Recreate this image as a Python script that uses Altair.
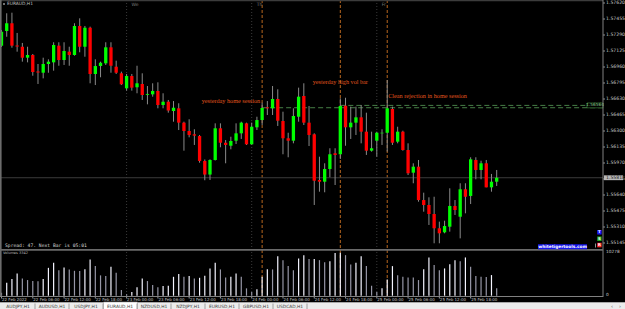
import altair as alt
import pandas as pd

# ---------------- data (EURAUD H1, 22-25 Feb 2022) ----------------
opens = [
    1.57180, 1.57331, 1.57411, 1.57182, 1.57169, 1.57056, 1.57084, 1.56914, 1.56901, 1.56991,
    1.57008, 1.57180, 1.57032, 1.57118, 1.57084, 1.57383, 1.57169, 1.57365, 1.56888, 1.56970,
    1.56998, 1.57163, 1.56963, 1.56895, 1.56740, 1.56867, 1.56751, 1.56785, 1.56673, 1.56678,
    1.56713, 1.56568, 1.56602, 1.56506, 1.56534, 1.56386, 1.56300, 1.56266, 1.56248, 1.55991,
    1.55851, 1.56001, 1.56328, 1.56179, 1.56148, 1.56200, 1.56276, 1.56379, 1.56163, 1.56338,
    1.56413, 1.56544, 1.56534, 1.56630, 1.56403, 1.56225, 1.56200, 1.56447, 1.56661, 1.56386,
    1.56266, 1.55795, 1.55777, 1.55908, 1.56070, 1.56060, 1.56561, 1.56338, 1.56386, 1.56441,
    1.56293, 1.56097, 1.56200, 1.56276, 1.56282, 1.56527, 1.56190, 1.56293, 1.56104, 1.55870,
    1.55932, 1.55588, 1.55537, 1.55444, 1.55297, 1.55255, 1.55313, 1.55527, 1.55416, 1.55699,
    1.55630, 1.56001, 1.55898, 1.55967, 1.55719, 1.55777]
highs = [
    1.57342, 1.57514, 1.57520, 1.57311, 1.57208, 1.57169, 1.57094, 1.56991, 1.57056, 1.57039,
    1.57215, 1.57215, 1.57215, 1.57169, 1.57411, 1.57462, 1.57383, 1.57376, 1.57039, 1.57015,
    1.57215, 1.57215, 1.57025, 1.56912, 1.56888, 1.56888, 1.56973, 1.56895, 1.56764, 1.56792,
    1.56802, 1.56689, 1.56620, 1.56609, 1.56586, 1.56396, 1.56421, 1.56318, 1.56259, 1.56006,
    1.56008, 1.56379, 1.56379, 1.56207, 1.56241, 1.56379, 1.56396, 1.56386, 1.56386, 1.56447,
    1.56592, 1.56609, 1.56764, 1.56730, 1.56499, 1.56282, 1.56534, 1.56747, 1.56792, 1.56558,
    1.56276, 1.56035, 1.55967, 1.56122, 1.56122, 1.56637, 1.56643, 1.56551, 1.56551, 1.56568,
    1.56489, 1.56293, 1.56293, 1.56318, 1.56826, 1.56551, 1.56344, 1.56303, 1.56173, 1.55967,
    1.56001, 1.55664, 1.55616, 1.55622, 1.55365, 1.55375, 1.55709, 1.55588, 1.55761, 1.55761,
    1.56029, 1.56029, 1.55994, 1.56001, 1.55857, 1.55898]
lows = [
    1.57166, 1.57272, 1.57159, 1.57118, 1.57015, 1.57008, 1.56870, 1.56785, 1.56843, 1.56901,
    1.56922, 1.56973, 1.56981, 1.56973, 1.57077, 1.57112, 1.57066, 1.56792, 1.56774, 1.56854,
    1.56981, 1.56901, 1.56888, 1.56774, 1.56716, 1.56716, 1.56689, 1.56620, 1.56575, 1.56654,
    1.56534, 1.56534, 1.56489, 1.56396, 1.56310, 1.56097, 1.56235, 1.56156, 1.55973, 1.55792,
    1.55795, 1.55996, 1.56132, 1.55967, 1.56111, 1.56166, 1.56218, 1.56156, 1.56158, 1.56310,
    1.56362, 1.56465, 1.56465, 1.56352, 1.56060, 1.56029, 1.56173, 1.56396, 1.56362, 1.56145,
    1.55537, 1.55674, 1.55668, 1.55823, 1.55743, 1.56011, 1.56148, 1.56218, 1.56259, 1.56173,
    1.56053, 1.56087, 1.56035, 1.56156, 1.56087, 1.56156, 1.56173, 1.56097, 1.55846, 1.55761,
    1.55571, 1.55468, 1.55331, 1.55142, 1.55142, 1.55245, 1.55262, 1.55434, 1.55193, 1.55451,
    1.55547, 1.55802, 1.55802, 1.55719, 1.55674, 1.55733]
closes = [
    1.57324, 1.57411, 1.57180, 1.57171, 1.57056, 1.57084, 1.56908, 1.56903, 1.56991, 1.57015,
    1.57187, 1.57032, 1.57125, 1.57084, 1.57383, 1.57169, 1.57365, 1.56888, 1.56970, 1.57004,
    1.57163, 1.56973, 1.56901, 1.56782, 1.56867, 1.56747, 1.56792, 1.56671, 1.56682, 1.56713,
    1.56568, 1.56602, 1.56511, 1.56540, 1.56386, 1.56300, 1.56259, 1.56252, 1.55991, 1.55851,
    1.56001, 1.56328, 1.56179, 1.56156, 1.56197, 1.56276, 1.56386, 1.56163, 1.56344, 1.56413,
    1.56537, 1.56534, 1.56630, 1.56406, 1.56225, 1.56200, 1.56455, 1.56654, 1.56386, 1.56259,
    1.55787, 1.55777, 1.55908, 1.56060, 1.56053, 1.56558, 1.56338, 1.56386, 1.56441, 1.56293,
    1.56097, 1.56122, 1.56282, 1.56282, 1.56534, 1.56179, 1.56293, 1.56104, 1.55864, 1.55932,
    1.55588, 1.55537, 1.55444, 1.55297, 1.55245, 1.55320, 1.55527, 1.55485, 1.55699, 1.55622,
    1.56008, 1.55898, 1.55967, 1.55719, 1.55777, 1.55818]
volumes = [
    720, 3100, 3970, 5330, 4140, 3740, 3500, 3450, 3970, 6660,
    7850, 6110, 6750, 6280, 5950, 5900, 6350, 8660, 7070, 4860,
    4690, 6900, 5470, 1360, 330, 880, 2000, 4140, 3500, 2550,
    2000, 2310, 2350, 4520, 5160, 4520, 4690, 4140, 4280, 4760,
    6520, 7850, 6280, 4380, 4520, 5330, 4520, 1760, 880, 1520,
    4520, 6350, 6280, 9450, 8500, 7070, 6110, 8900, 9690, 8750,
    8800, 8500, 8020, 8260, 10230, 10278, 9690, 7470, 7850, 9450,
    7070, 2380, 880, 1760, 3900, 7070, 4860, 4520, 4380, 4380,
    3740, 6350, 9140, 7310, 6110, 6520, 7540, 8500, 8260, 9140,
    6900, 4690, 4520, 4450, 4930, 1760]

price_ticks = [1.57620, 1.57455, 1.57290, 1.57125, 1.56960, 1.56795, 1.56630, 1.56465,
               1.56300, 1.56135, 1.55970, 1.55805, 1.55640, 1.55475, 1.55310, 1.55145]
time_bars = [0, 6, 12, 18, 24, 30, 36, 42, 48, 54, 60, 66, 72, 78, 84, 90]
time_labels = ["22 Feb 2022", "22 Feb 06:00", "22 Feb 12:00", "22 Feb 18:00",
               "23 Feb 00:00", "23 Feb 06:00", "23 Feb 12:00", "23 Feb 18:00",
               "24 Feb 00:00", "24 Feb 06:00", "24 Feb 12:00", "24 Feb 18:00",
               "25 Feb 00:00", "25 Feb 06:00", "25 Feb 12:00", "25 Feb 18:00"]
day_bars = [24, 48, 72]
day_names = ["We", "Th", "Fr"]
mark_bars = [50, 65, 74]
note_texts = ["yesterday home session", "yesterday high vol bar", "Clean rejection in home session"]
note_prices = [1.56609, 1.56810, 1.56661]
note_align = ["right", "center", "left"]
level_prices = [1.56564, 1.56540]
level_from = [65, 50]
tabs = ["AUDJPY,H1", "AUDUSD,H1", "USDJPY,H1", "EURAUD,H1", "NZDUSD,H1",
        "NZDJPY,H1", "EURUSD,H1", "GBPUSD,H1", "USDCAD,H1"]
vol_max = 10278

# ---------------- tables ----------------
N = len(opens)
df = pd.DataFrame({"bar": list(range(N)), "open": opens, "high": highs,
                   "low": lows, "close": closes, "volume": volumes})
df["col"] = ["#00ff00" if c >= o else "#ff0000" for o, c in zip(opens, closes)]
df["vcol"] = ["#f4f4ff" if (i > 0 and volumes[i] > volumes[i - 1]) else "#9696a6"
              for i in range(N)]

xs = alt.Scale(domain=[0, 96], range=[1.5, 501.9], zero=False, nice=False, padding=0)
ps = alt.Scale(domain=[1.55145, 1.57620], range=[243, 3], zero=False, nice=False, padding=0)
vs = alt.Scale(domain=[0, vol_max], range=[295.7, 252.7], zero=False, nice=False, padding=0)

FONT = "DejaVu Sans"


def X(f="bar"):
    return alt.X(f"{f}:Q", scale=xs, axis=None)


def PY(f):
    return alt.Y(f"{f}:Q", scale=ps, axis=None)


def one():
    return alt.Chart(pd.DataFrame({"k": [0]}))


base = alt.Chart(df)

# ---- price pane ----
day_df = pd.DataFrame({"bar": day_bars, "name": day_names})
mark_df = pd.DataFrame({"bar": mark_bars})
lvl_df = pd.DataFrame({"price": level_prices, "bar": level_from})
note_df = pd.DataFrame({"bar": mark_bars, "price": note_prices, "txt": note_texts, "al": note_align})
tick_df = pd.DataFrame({"price": price_ticks})
last_df = pd.DataFrame({"price": [closes[-1]], "top": [closes[-1] + 0.00025],
                        "bot": [closes[-1] - 0.00025]})
lvl_lab = pd.DataFrame({"price": [level_prices[0]], "top": [level_prices[0] + 0.00025],
                        "bot": [level_prices[0] - 0.00025]})

cur_line = alt.Chart(last_df).mark_rule(color="#3c3c3c", strokeWidth=1).encode(
    x=alt.value(0), x2=alt.value(603), y=PY("price"))
levels = alt.Chart(lvl_df).mark_rule(color="#4e8c4e", strokeWidth=0.9, strokeDash=[5, 3]).encode(
    x=X("bar"), x2=alt.value(603), y=PY("price"))
wicks = base.mark_rule(color="#8a8a8a", strokeWidth=1).encode(x=X(), y=PY("low"), y2=alt.Y2("high"))
bodies = base.mark_bar(size=3.3).encode(x=X(), y=PY("open"), y2=alt.Y2("close"),
                                        color=alt.Color("col:N", scale=None))
notes = []
for al in ["right", "center", "left"]:
    dx = {"right": -2, "center": 0, "left": 1}[al]
    notes.append(alt.Chart(note_df[note_df.al == al]).mark_text(
        align=al, baseline="middle", font="Liberation Serif", fontSize=6.2,
        color="#e0561e", dx=dx).encode(x=X("bar"), y=PY("price"), text="txt:N"))
price_labels = alt.Chart(tick_df).mark_text(
    align="left", baseline="middle", font=FONT, fontSize=4.6, color="#c8c8c8").encode(
    x=alt.value(606), y=PY("price"), text=alt.Text("price:Q", format=".5f"))
price_ticks_m = alt.Chart(tick_df).mark_rule(color="#909090").encode(
    x=alt.value(603), x2=alt.value(605), y=PY("price"))
last_box = alt.Chart(last_df).mark_rect(fill="#b8b8b8").encode(
    x=alt.value(604), x2=alt.value(623), y=PY("top"), y2=alt.Y2("bot"))
last_txt = alt.Chart(last_df).mark_text(
    align="left", baseline="middle", font=FONT, fontSize=4.6, color="#202020").encode(
    x=alt.value(606), y=PY("price"), text=alt.Text("price:Q", format=".5f"))
lvl_box = alt.Chart(lvl_lab).mark_rect(fill="#000000", stroke="#3f8f3f", strokeWidth=0.6).encode(
    x=alt.value(587), x2=alt.value(603), y=PY("top"), y2=alt.Y2("bot"))
lvl_txt = alt.Chart(lvl_lab).mark_text(
    align="center", baseline="middle", font=FONT, fontSize=4.3, color="#8fd08f").encode(
    x=alt.value(595), y=PY("price"), text=alt.Text("price:Q", format=".5f"))

price_layer = alt.layer(cur_line, levels, wicks, bodies, *notes, price_ticks_m,
                        price_labels, last_box, last_txt, lvl_box, lvl_txt)

# ---- volume pane ----
vbars = base.mark_bar(size=1.2).encode(
    x=X(), y=alt.Y("volume:Q", scale=vs, axis=None), color=alt.Color("vcol:N", scale=None))
vlab_df = pd.DataFrame({"v": [vol_max, 0], "t": [str(vol_max), "0"]})
vlabels = alt.Chart(vlab_df).mark_text(
    align="left", baseline="middle", font=FONT, fontSize=4.3, color="#c8c8c8", dy=-1).encode(
    x=alt.value(606), y=alt.Y("v:Q", scale=vs, axis=None), text="t:N")
vol_layer = alt.layer(vbars, vlabels)

# ---- frame, separators, texts ----
seps = alt.Chart(day_df).mark_rule(color="#3a3a3a", strokeDash=[1, 2], strokeWidth=1).encode(
    x=X("bar"), y=alt.value(0), y2=alt.value(296))
day_txt = alt.Chart(day_df).mark_text(
    align="left", baseline="middle", font=FONT, fontSize=4.6, color="#7a7a7a", dx=5).encode(
    x=X("bar"), y=alt.value(4.5), text="name:N")
orange = alt.Chart(mark_df).mark_rule(color="#b8661e", strokeDash=[3, 2], strokeWidth=1).encode(
    x=X("bar"), y=alt.value(0), y2=alt.value(296))

frame = alt.layer(
    one().mark_rule(color="#3c3c3c", strokeWidth=1.2).encode(x=alt.value(0), x2=alt.value(603), y=alt.value(0.6)),
    one().mark_rule(color="#6c6c6c", strokeWidth=1.6).encode(x=alt.value(0.8), y=alt.value(0), y2=alt.value(297)),
    one().mark_rule(color="#808080", strokeWidth=1).encode(x=alt.value(603), y=alt.value(0), y2=alt.value(297)),
    one().mark_rule(color="#6a6a6a", strokeWidth=1.8).encode(x=alt.value(0), x2=alt.value(603), y=alt.value(249.8)),
    one().mark_rule(color="#808080", strokeWidth=1).encode(x=alt.value(0), x2=alt.value(603), y=alt.value(296.5)),
)

time_df = pd.DataFrame({"bar": time_bars, "lab": time_labels})
time_ticks = alt.Chart(time_df).mark_rule(color="#909090").encode(
    x=X("bar"), y=alt.value(296.5), y2=alt.value(298.5))
time_txt = alt.Chart(time_df).mark_text(
    align="left", baseline="middle", font=FONT, fontSize=4.0, color="#c0c0c0", dx=0.5).encode(
    x=X("bar"), y=alt.value(299.8), text="lab:N")

title_txt = one().mark_text(align="left", baseline="middle", font=FONT, fontSize=4.4,
                            color="#c0c0c0", text="EURAUD,H1").encode(x=alt.value(7), y=alt.value(4.2))
title_icon = one().mark_rule(color="#e0e0e0", strokeWidth=1).encode(
    x=alt.value(3), x2=alt.value(5), y=alt.value(4))
spread_txt = one().mark_text(align="left", baseline="middle", font="DejaVu Sans Mono", fontSize=4.7,
                             color="#d0d0d0", text="Spread: 47. Next Bar is 05:01").encode(
    x=alt.value(5), y=alt.value(245.6))
vol_title = one().mark_text(align="left", baseline="middle", font=FONT, fontSize=3.5,
                            color="#b8b8b8", text="Volumes 3342").encode(x=alt.value(3), y=alt.value(253))

brand_box = one().mark_rect(fill="#1414ee").encode(
    x=alt.value(538), x2=alt.value(587), y=alt.value(244.2), y2=alt.value(249.2))
brand_txt = one().mark_text(align="center", baseline="middle", font=FONT, fontSize=4.3,
                            fontWeight="bold", color="#ffffff", text="whitetigertools.com").encode(
    x=alt.value(562.5), y=alt.value(246.8))

tsr_df = pd.DataFrame({"t": ["T", "S", "R"], "c": ["#1a1aff", "#22aa22", "#ff2a2a"],
                       "y1": [230.0, 236.5, 242.8], "y2": [234.5, 241.0, 247.3],
                       "ym": [232.3, 238.8, 245.1]})
tsr_box = alt.Chart(tsr_df).mark_rect().encode(
    x=alt.value(597.2), x2=alt.value(601.6), y=alt.Y("y1:Q", scale=None, axis=None),
    y2="y2:Q", color=alt.Color("c:N", scale=None))
tsr_txt = alt.Chart(tsr_df).mark_text(align="center", baseline="middle", font=FONT,
                                      fontSize=3.8, fontWeight="bold", color="#ffffff").encode(
    x=alt.value(599.4), y=alt.Y("ym:Q", scale=None, axis=None), text="t:N")
tsr_bar = one().mark_rule(color="#909090").encode(x=alt.value(595.5), y=alt.value(243.5), y2=alt.value(247.5))

# ---- tab bar ----
TW = 34.0
tab_df = pd.DataFrame({"t": tabs, "cx": [18 + TW * k for k in range(len(tabs))],
                       "sx": [35 + TW * k for k in range(len(tabs))]})
tab_bg = one().mark_rect(fill="#ececec").encode(
    x=alt.value(0), x2=alt.value(625), y=alt.value(302.3), y2=alt.value(309))
tab_top = one().mark_rule(color="#a8a8a8").encode(x=alt.value(0), x2=alt.value(625), y=alt.value(302.5))
tab_active = one().mark_rect(fill="#ffffff", stroke="#9a9a9a", strokeWidth=0.6).encode(
    x=alt.value(103.5), x2=alt.value(137.5), y=alt.value(302.0), y2=alt.value(310))
tab_seps = alt.Chart(tab_df).mark_rule(color="#a0a0a0").encode(
    x=alt.X("sx:Q", scale=None, axis=None), y=alt.value(303.5), y2=alt.value(309))
tab_txt = alt.Chart(tab_df).mark_text(align="center", baseline="middle", font=FONT,
                                      fontSize=4.4, color="#3a3a3a").encode(
    x=alt.X("cx:Q", scale=None, axis=None), y=alt.value(306.6), text="t:N")
arrows = alt.Chart(pd.DataFrame({"a": ["\u2039", "\u203a"], "x": [612.0, 620.0]})).mark_text(
    align="center", baseline="middle", font=FONT, fontSize=5, color="#606060").encode(
    x=alt.X("x:Q", scale=None, axis=None), y=alt.value(306.4), text="a:N")

chart = alt.layer(
    seps, orange, price_layer, vol_layer, frame, day_txt, time_ticks, time_txt,
    title_icon, title_txt, spread_txt, vol_title, brand_box, brand_txt,
    tsr_box, tsr_txt, tsr_bar,
    tab_bg, tab_top, tab_active, tab_seps, tab_txt, arrows,
).resolve_scale(y="independent", x="independent").properties(
    width=625, height=309, padding=0,
    autosize=alt.AutoSizeParams(type="none", contains="padding"),
).configure(background="#000000").configure_view(stroke=None, fill="#000000")

chart.save("out.html", embed_options={"renderer": "svg", "actions": False})
